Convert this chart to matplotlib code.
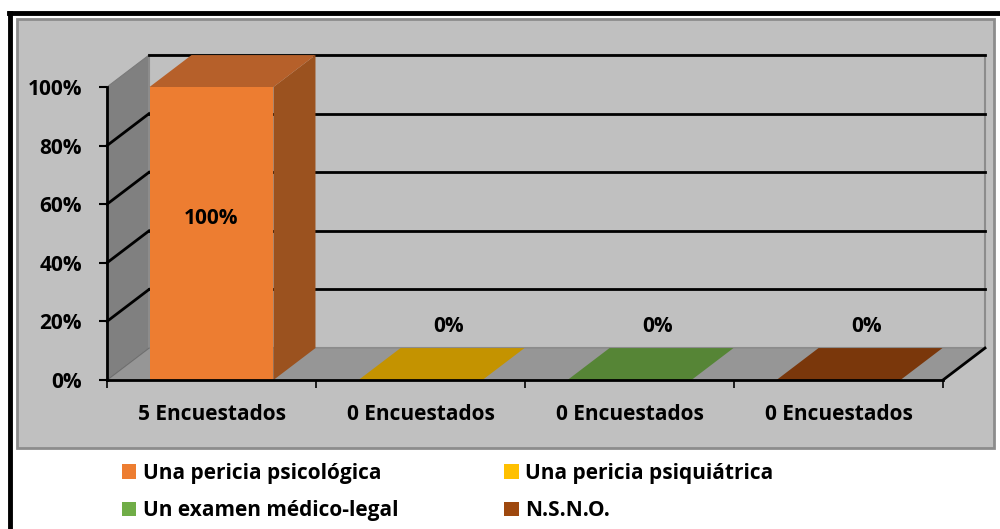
import matplotlib
matplotlib.use("Agg")
import matplotlib.pyplot as plt
from matplotlib.patches import Polygon, Rectangle, Patch
from matplotlib.lines import Line2D

plt.rcParams['font.family'] = ['Open Sans', 'DejaVu Sans']
plt.rcParams['font.weight'] = 'bold'

# ---------------------------------------------------------
# Data
# ---------------------------------------------------------
categories = ["5 Encuestados", "0 Encuestados", "0 Encuestados", "0 Encuestados"]
series_names = ["Una pericia psicológica", "Una pericia psiquiátrica",
                "Un examen médico-legal", "N.S.N.O."]
values = [100, 0, 0, 0]
value_labels = ["100%", "0%", "0%", "0%"]
yticks = [0, 20, 40, 60, 80, 100]
ytick_labels = ["0%", "20%", "40%", "60%", "80%", "100%"]

front_colors = ["#ED7D31", "#FFC000", "#70AD47", "#9E480E"]
top_colors = ["#B6602A", "#C49300", "#568536", "#7A370B"]
side_colors = ["#9B521F", "#A67D00", "#497330", "#672F09"]

# 3D look: depth offset in data units
DX, DY = 0.201, 10.9
BAR_W = 0.593
FS = 15

fig = plt.figure(figsize=(10, 5.29), dpi=100)
fig.patch.set_facecolor("white")

# outer frame and gray chart area
fig.add_artist(Rectangle((0.017, 1 - 448 / 529), 0.977, 429 / 529,
                         transform=fig.transFigure, facecolor="#C0C0C0",
                         edgecolor="#8C8C8C", lw=2, zorder=0))
fig.add_artist(Line2D([0.009, 1.0], [1 - 13 / 529] * 2, transform=fig.transFigure,
                      color="black", lw=3.5))
fig.add_artist(Line2D([0.0095, 0.0095], [0, 1 - 13 / 529], transform=fig.transFigure,
                      color="black", lw=3.5))

ax = fig.add_axes([0.107, 1 - 380 / 529, 0.836, 293 / 529])
ax.set_xlim(0, len(categories))
ax.set_ylim(0, 100)
ax.patch.set_visible(False)
n = len(categories)

# side wall
ax.add_patch(Polygon([(0, 0), (0, 100), (DX, 100 + DY), (DX, DY)], closed=True,
                     facecolor="#808080", edgecolor="#7A7A7A", lw=0.8,
                     clip_on=False, zorder=1))
# back wall
ax.add_patch(Polygon([(DX, DY), (DX, 100 + DY), (n + DX, 100 + DY), (n + DX, DY)],
                     closed=True, facecolor="#C0C0C0", edgecolor="#8C8C8C", lw=1.5,
                     clip_on=False, zorder=1))
# floor
ax.add_patch(Polygon([(0, 0), (n, 0), (n + DX, DY), (DX, DY)], closed=True,
                     facecolor="#969696", edgecolor="#8C8C8C", lw=1,
                     clip_on=False, zorder=2))
ax.plot([n, n + DX], [0, DY], color="black", lw=2, clip_on=False, zorder=3)
ax.plot([0, DX], [0, DY], color="#6E6E6E", lw=0.8, clip_on=False, zorder=3)

# gridlines on the walls
for v in yticks[1:]:
    ax.plot([DX, n + DX], [v + DY, v + DY], color="black", lw=2,
            clip_on=False, zorder=2)
    if v < 100:
        ax.plot([0, DX], [v, v + DY], color="black", lw=2, clip_on=False, zorder=2)

# bars
for i, v in enumerate(values):
    x0 = i + 0.5 - BAR_W / 2
    x1 = i + 0.5 + BAR_W / 2
    if v > 0:
        ax.add_patch(Polygon([(x0, 0), (x1, 0), (x1, v), (x0, v)], closed=True,
                             facecolor=front_colors[i], edgecolor="none",
                             clip_on=False, zorder=5))
        ax.add_patch(Polygon([(x1, 0), (x1 + DX, DY), (x1 + DX, v + DY), (x1, v)],
                             closed=True, facecolor=side_colors[i], edgecolor="none",
                             clip_on=False, zorder=5))
        ax.add_patch(Polygon([(x0, v), (x1, v), (x1 + DX, v + DY), (x0 + DX, v + DY)],
                             closed=True, facecolor=top_colors[i], edgecolor="none",
                             clip_on=False, zorder=5))
        ax.text(i + 0.5, v * 0.55, value_labels[i], ha="center", va="center",
                fontsize=FS, fontweight="bold", zorder=6)
    else:
        ax.add_patch(Polygon([(x0, 0), (x1, 0), (x1 + DX, DY), (x0 + DX, DY)],
                             closed=True, facecolor=top_colors[i], edgecolor="none",
                             clip_on=False, zorder=4))
        ax.text(i + 0.5 + DX * 0.67, v + DY + 7.5, value_labels[i], ha="center",
                va="center", fontsize=FS, fontweight="bold", zorder=6)

# axes styling
for s in ["top", "right"]:
    ax.spines[s].set_visible(False)
for s in ["left", "bottom"]:
    ax.spines[s].set_color("black")
    ax.spines[s].set_linewidth(2)
    ax.spines[s].set_zorder(7)

ax.set_yticks(yticks)
ax.set_yticklabels(ytick_labels, fontsize=FS, fontweight="bold")
ax.set_xticks(range(n + 1))
ax.set_xticklabels([])
ax.set_xticks([i + 0.5 for i in range(n)], minor=True)
ax.set_xticklabels(categories, minor=True, fontsize=FS, fontweight="bold")
ax.tick_params(axis="y", direction="out", length=6, width=1.5, pad=12)
ax.tick_params(axis="x", which="major", direction="out", length=6, width=1.2)
ax.tick_params(axis="x", which="minor", length=0, pad=17)

# legend (row-wise order)
handles = [Patch(facecolor=c, edgecolor="none") for c in front_colors]
order = [0, 2, 1, 3]
fig.legend([handles[k] for k in order], [series_names[k] for k in order],
           ncol=2, loc="upper left", bbox_to_anchor=(0.103, 1 - 444 / 529),
           frameon=False, prop={"weight": "bold", "size": FS},
           handlelength=0.7, handleheight=0.7, handletextpad=0.3,
           columnspacing=5.1, labelspacing=0.8)

fig.savefig("out.png", dpi=100, facecolor="white")
